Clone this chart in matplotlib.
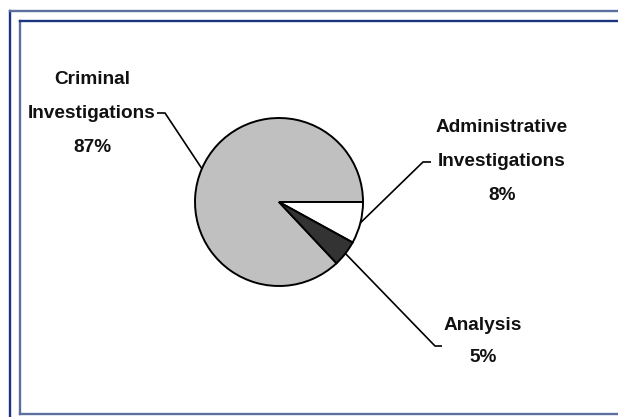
import matplotlib.pyplot as plt
import numpy as np

# data
categories = ['Criminal\nInvestigations', 'Administrative\nInvestigations', 'Analysis']
shares = [87, 8, 5]
slice_colors = ['#c0c0c0', '#ffffff', '#333333']

W, H = 618, 417

def px(x, y):
    # picture pixel coords -> axes data coords (y up)
    return x, H - y

fig = plt.figure(figsize=(W / 100, H / 100), dpi=100)
fig.patch.set_facecolor('#ffffff')
ax = fig.add_axes([0, 0, 1, 1])

# first slice ends at 3 o'clock, slices run clockwise
start = -360 * sum(shares[1:]) / sum(shares)
cx, cy = px(279, 202)
radius = 84
wedges, _ = ax.pie(shares, colors=slice_colors, startangle=start, counterclock=False,
                   center=(cx, cy), radius=radius, frame=True,
                   wedgeprops=dict(edgecolor='black', linewidth=1.4))

ax.set_xlim(0, W)
ax.set_ylim(0, H)
ax.set_aspect('equal')
ax.axis('off')

# label layout: elbow point, tick end, text centre x, line y positions
layout = [
    dict(elbow=(165, 113), tick=(157, 113), tx=92, ys=[79, 113, 147]),
    dict(elbow=(423, 162), tick=(431, 162), tx=502, ys=[127, 161, 195]),
    dict(elbow=(435, 346), tick=(442, 346), tx=483, ys=[325, 358]),
]

font = dict(family=['Liberation Sans', 'DejaVu Sans'], fontweight='bold',
            fontsize=13.7, color='#111111', ha='center', va='center')

for w, name, val, lay in zip(wedges, categories, shares, layout):
    mid = np.deg2rad((w.theta1 + w.theta2) / 2)
    ax0 = cx + radius * np.cos(mid)
    ay0 = cy + radius * np.sin(mid)
    ex, ey = px(*lay['elbow'])
    tx_, ty_ = px(*lay['tick'])
    ax.plot([ax0, ex, tx_], [ay0, ey, ty_], color='black', linewidth=1.2,
            solid_capstyle='butt')
    lines = name.split('\n') + [f'{val}%']
    for txt, y in zip(lines, lay['ys']):
        ax.text(lay['tx'], H - y, txt, **font)

# double frame around the chart
dark = '#1c3580'
light = '#5d6f9f'
ax.plot([10, 10], [H - 11, 0], color=dark, linewidth=1.7)
ax.plot([10, W], [H - 11, H - 11], color=light, linewidth=1.7)
ax.plot([20, 20], [H - 21, H - 414], color=light, linewidth=1.7)
ax.plot([20, W], [H - 21, H - 21], color=dark, linewidth=1.7)
ax.plot([20, W], [H - 414, H - 414], color=light, linewidth=1.7)

fig.savefig('out.png', dpi=100)
